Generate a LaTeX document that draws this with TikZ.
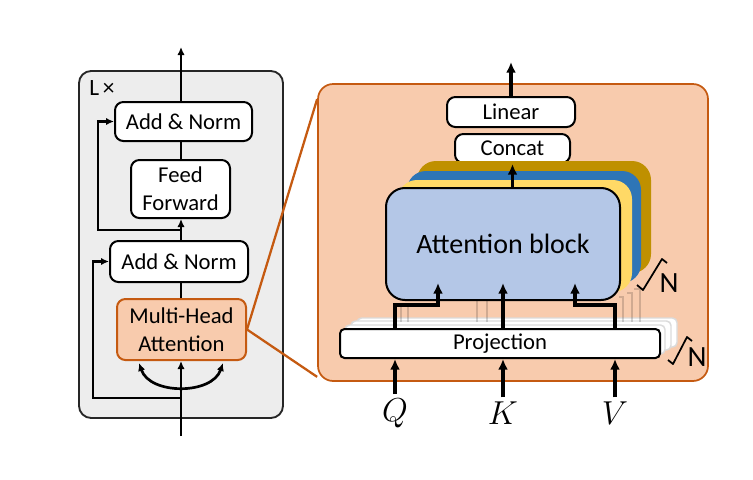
\documentclass[tikz,border=0pt]{standalone}
\usepackage{fontspec}
\setmainfont{Carlito}
\usetikzlibrary{positioning, arrows.meta, calc}

\definecolor{mhafill}{HTML}{F8CBAD}
\definecolor{mhaedge}{HTML}{C55A11}
\definecolor{attnblue}{HTML}{B4C7E7}
\definecolor{layeryellow}{HTML}{FFD966}
\definecolor{layerblue}{HTML}{2E75B6}
\definecolor{layergold}{HTML}{BF9000}
\definecolor{panelgray}{HTML}{EDEDED}

\begin{document}
\begin{tikzpicture}[x=0.75pt, y=-0.75pt, >=Latex]

\tikzset{
  block/.style={
    rectangle, rounded corners=2.2mm,
    draw, line width=1.5pt, fill=white, align=center,
    inner sep=2pt, font=\fontsize{17}{21}\selectfont
  },
  mhablock/.style={block, draw=mhaedge, fill=mhafill},
  panel/.style={
    rectangle, rounded corners=3.2mm,
    draw=black!85, line width=1.4pt, fill=panelgray
  },
  zoompanel/.style={
    rectangle, rounded corners=4mm,
    draw=mhaedge, line width=1.3pt, fill=mhafill
  },
  layer/.style={rectangle, rounded corners=5mm, minimum width=175.5pt, minimum height=84pt},
  projghost/.style={
    rectangle, rounded corners=1.2mm, draw=black!14, line width=1.1pt,
    fill=white, minimum width=240pt, minimum height=21.75pt
  },
  flow/.style={-{Latex[length=6pt,width=5.5pt]}, line width=2pt},
  dualflow/.style={{Latex[length=6pt,width=5.5pt]}-{Latex[length=6pt,width=5.5pt]}, line width=2pt},
  plain/.style={line width=2pt},
  bigflow/.style={-{Latex[length=8pt,width=7.5pt]}, line width=2.7pt},
  zoomline/.style={draw=mhaedge, line width=1.7pt},
  ghost/.style={draw=black, opacity=0.16, line width=2pt},
  bracket/.style={line width=1.3pt, line join=round},
  inlabel/.style={inner sep=3pt, font=\fontsize{23}{26}\selectfont}
}

\useasboundingbox (0,0) rectangle (753,479);

% ==========================
% Encoder layer (left)
% ==========================
\node[panel, minimum width=153pt, minimum height=260.25pt] (lpanel) at (181,244.5) {};
\node[anchor=west, inner sep=0pt, font=\fontsize{17.5}{20}\selectfont] (ltimes) at (89,88) {L\,×};

\node[block, minimum width=102.75pt, minimum height=29.25pt] (an1) at (183.5,121.5) {Add \& Norm};
\node[block, minimum width=74.25pt, minimum height=43.5pt] (ff) at (180.5,189) {Feed\\Forward};
\node[block, minimum width=103.5pt, minimum height=30.75pt] (an2) at (179,261.5) {Add \& Norm};
\node[mhablock, minimum width=96.75pt, minimum height=45.75pt] (mha) at (181.5,329.5) {Multi-Head\\Attention};

\coordinate (in1) at (181,436);
\coordinate (out1) at (181,47);
\coordinate (res1) at (181,398);
\coordinate (res2) at (181,230);
\coordinate (arcl) at (139,363);
\coordinate (arcr) at (223,363);

\draw[flow] (in1) -- (in1 |- mha.south);
\draw[dualflow] (arcl) .. controls +(11,32) and +(-11,32) .. (arcr);
\draw[flow] (res1) -- ++(-88,0) |- (an2.west);
\draw[plain] (mha.north -| in1) -- (an2.south -| in1);
\draw[flow] (an2.north -| in1) -- (ff.south -| in1);
\draw[flow] (res2) -- ++(-83,0) |- (an1.west);
\draw[plain] (ff.north -| in1) -- (an1.south -| in1);
\draw[flow] (an1.north -| in1) -- (out1);

% ==========================
% Multi-head attention (right)
% ==========================
\node[zoompanel, minimum width=292.5pt, minimum height=222.75pt] (rpanel) at (513,232.5) {};

\draw[zoomline] (mha.east) -- ($(rpanel.north west)+(0,16)$);
\draw[zoomline] (mha.east) -- ($(rpanel.south west)+(0,-5)$);

\node[block, minimum width=96pt, minimum height=22.5pt] (linear) at (511,112) {Linear};
\node[block, minimum width=86.25pt, minimum height=21.75pt] (concat) at (512.5,148.5) {Concat};

% stacked heads
\coordinate (attnpos) at (503,244);
\node[layer, fill=layergold] (head3) at ($(attnpos)+(31,-27)$) {};
\node[layer, fill=layerblue] (head2) at ($(attnpos)+(21,-17)$) {};
\node[layer, fill=layeryellow] (head1) at ($(attnpos)+(12,-8)$) {};
\node[block, rounded corners=5mm, fill=attnblue, minimum width=175.5pt, minimum height=84pt,
      font=\fontsize{21}{25}\selectfont] (attn) at (attnpos) {Attention block};

% stacked projections
\coordinate (projpos) at (500,343.5);
\foreach \dx/\dy in {17/-11, 11/-8, 5/-4} {
  \node[projghost] at ($(projpos)+(\dx,\dy)$) {};
}
\node[block, rounded corners=1.2mm, minimum width=240pt, minimum height=21.75pt] (proj) at (projpos) {Projection};

% faded links of the back heads
\draw[ghost] (401,322) -- (401,307);
\draw[ghost] (408,322) -- (408,304);
\draw[ghost] (477,322) -- (477,301);
\draw[ghost] (487,322) -- (487,301);
\draw[ghost] (623,322) -- (623,297) -- (619,297);
\draw[ghost] (632,322) -- (632,293) -- (627,293);
\draw[ghost] (640,322) -- (640,289) -- (634,289);

\node[inlabel] (qin) at (395,413) {$Q$};
\node[inlabel] (kin) at (503,413) {$K$};
\node[inlabel] (vin) at (615,413) {$V$};

\draw[bigflow] (qin.north) -- (qin.north |- proj.south);
\draw[bigflow] (kin.north) -- (kin.north |- proj.south);
\draw[bigflow] (vin.north) -- (vin.north |- proj.south);

\draw[bigflow] (qin |- proj.north) -- ++(0,-23) -| ($(attn.south)+(-65,-18)$);
\draw[bigflow] (kin |- proj.north) -- ($(attn.south)+(0,-18)$);
\draw[bigflow] (vin |- proj.north) -- ++(0,-23) -| ($(attn.south)+(72,-18)$);

\draw[bigflow] (concat.south |- attn.north) -- (concat.south);
\coordinate (out2) at (511,62);
\draw[bigflow] (linear.north) -- (out2);

% N copies
\draw[bracket] (637,285) -- (643,290) -- (662,259) -- (667,263);
\node[font=\fontsize{22}{25}\selectfont, inner sep=0pt] (nheads) at (669,283) {N};
\draw[bracket] (668,360) -- (673,364) -- (687,337) -- (692,341);
\node[font=\fontsize{22}{25}\selectfont, inner sep=0pt] (nproj) at (697,357) {N};

\end{tikzpicture}
\end{document}
